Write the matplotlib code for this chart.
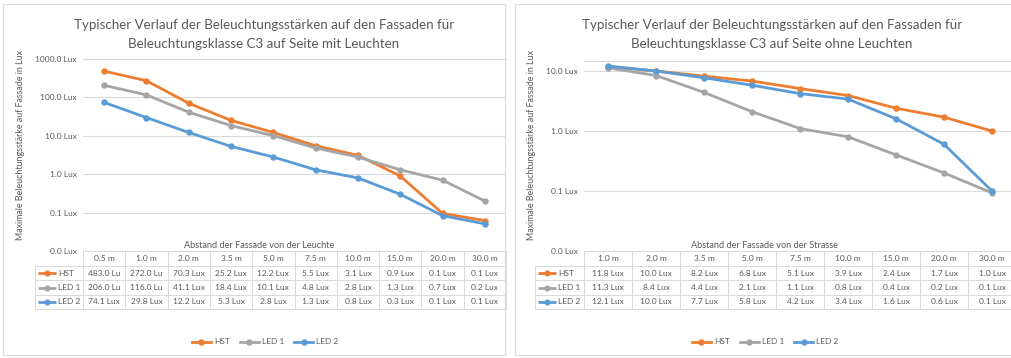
import matplotlib
matplotlib.use("Agg")
import matplotlib.pyplot as plt
import matplotlib.transforms as mtransforms
from matplotlib.lines import Line2D
from matplotlib.patches import Rectangle

plt.rcParams['font.family'] = ['Lato', 'DejaVu Sans']

W, H = 1012, 358

series_names = ["HST", "LED 1", "LED 2"]
series_colors = ["#ED7D31", "#A5A5A5", "#5B9BD5"]

# Seite mit Leuchten
dist_mit = ["0.5 m", "1.0 m", "2.0 m", "3.5 m", "5.0 m", "7.5 m",
            "10.0 m", "15.0 m", "20.0 m", "30.0 m"]
hst_mit = [483.0, 272.0, 70.3, 25.2, 12.2, 5.5, 3.1, 0.9, 0.095, 0.062]
led1_mit = [206.0, 116.0, 41.1, 18.4, 10.1, 4.8, 2.8, 1.3, 0.7, 0.2]
led2_mit = [74.1, 29.8, 12.2, 5.3, 2.8, 1.3, 0.8, 0.3, 0.083, 0.051]

# Seite ohne Leuchten
dist_ohne = ["1.0 m", "2.0 m", "3.5 m", "5.0 m", "7.5 m",
             "10.0 m", "15.0 m", "20.0 m", "30.0 m"]
hst_ohne = [11.8, 10.0, 8.2, 6.8, 5.1, 3.9, 2.4, 1.7, 1.0]
led1_ohne = [11.3, 8.4, 4.4, 2.1, 1.1, 0.8, 0.4, 0.2, 0.093]
led2_ohne = [12.1, 10.0, 7.7, 5.8, 4.2, 3.4, 1.6, 0.6, 0.1]

TEXT = "#595959"
GRID = "#D9D9D9"

fig = plt.figure(figsize=(W / 100, H / 100), dpi=100)
fig.patch.set_facecolor("white")


def fx(x):
    return x / W


def fy(y):
    return 1 - y / H


def lux(v):
    return f"{v:.1f} Lux"


def panel(frame, ax_box, cats, series, title_lines, title_x, xlabel, xlabel_x,
          ylim, ylabel_x, table_left, legend_x):
    # panel frame
    fig.add_artist(Rectangle((fx(frame[0]), fy(frame[3])),
                             fx(frame[2] - frame[0]), (frame[3] - frame[1]) / H,
                             transform=fig.transFigure, fill=False,
                             edgecolor=GRID, lw=0.8))
    x0, y0, x1, y1 = ax_box
    ax = fig.add_axes([fx(x0), fy(y1), fx(x1 - x0), (y1 - y0) / H])
    n = len(cats)
    ax.set_yscale("log")
    ax.set_ylim(*ylim)
    ax.set_xlim(-0.5, n - 0.5)
    decades = [10.0 ** k for k in range(-2, 4) if ylim[0] * 0.999 <= 10.0 ** k <= ylim[1] * 1.001]
    ax.set_yticks(decades)
    ax.set_yticklabels([lux(v) for v in decades])
    ax.yaxis.set_minor_locator(matplotlib.ticker.NullLocator())
    ax.set_xticks([])
    ax.tick_params(axis="y", length=0, labelsize=6, labelcolor=TEXT, pad=4.5)
    ax.grid(axis="y", color=GRID, lw=0.8)
    ax.set_axisbelow(True)
    for s in ("left", "right", "bottom"):
        ax.spines[s].set_visible(False)
    ax.spines["top"].set_color(GRID)
    ax.spines["top"].set_linewidth(0.8)
    ax.patch.set_alpha(0)

    handles = []
    for name, color, vals in zip(series_names, series_colors, series):
        h, = ax.plot(range(n), vals, color=color, lw=2, marker="o", ms=3.6,
                     clip_on=False, label=name, zorder=3)
        handles.append(h)

    # titles and axis titles
    for i, line in enumerate(title_lines):
        fig.text(fx(title_x), fy(25 + 19 * i), line, ha="center", va="center",
                 fontsize=9.6, color=TEXT)
    fig.text(fx(xlabel_x), fy(245), xlabel, ha="center", va="center",
             fontsize=6.6, color=TEXT)
    fig.text(fx(ylabel_x), fy(145), "Maximale Beleuchtungsstärke auf Fassade in Lux",
             rotation=90, ha="center", va="center", fontsize=6.4, color=TEXT)

    # data table
    tr = mtransforms.blended_transform_factory(ax.transData, fig.transFigure)
    rows_y = [251, 266, 280, 295, 309]
    xr = n - 0.5
    lk = dict(color=GRID, lw=0.7)
    fig.add_artist(Line2D([-0.5, xr], [fy(rows_y[0])] * 2, transform=tr, **lk))
    for yy in rows_y[1:]:
        fig.add_artist(Line2D([fx(table_left), fx(x0)], [fy(yy)] * 2,
                              transform=fig.transFigure, **lk))
        fig.add_artist(Line2D([-0.5, xr], [fy(yy)] * 2, transform=tr, **lk))
    fig.add_artist(Line2D([fx(table_left)] * 2, [fy(rows_y[1]), fy(rows_y[-1])],
                          transform=fig.transFigure, **lk))
    for i in range(n + 1):
        fig.add_artist(Line2D([i - 0.5] * 2, [fy(rows_y[0]), fy(rows_y[-1])],
                              transform=tr, **lk))
    centers = [(rows_y[k] + rows_y[k + 1]) / 2 for k in range(4)]
    for i, c in enumerate(cats):
        fig.text(i, fy(centers[0]), c, transform=tr, ha="center", va="center",
                 fontsize=6, color=TEXT)
    for r, (name, color, vals) in enumerate(zip(series_names, series_colors, series)):
        yc = fy(centers[r + 1])
        fig.add_artist(Line2D([fx(table_left + 3), fx(table_left + 21)], [yc, yc],
                              transform=fig.transFigure, color=color, lw=2,
                              solid_capstyle="butt"))
        fig.add_artist(Line2D([fx(table_left + 12)], [yc], transform=fig.transFigure,
                              color=color, marker="o", ms=3.4, lw=0))
        fig.text(fx(table_left + 23), yc, name, ha="left", va="center",
                 fontsize=6, color=TEXT)
        for i, v in enumerate(vals):
            s = lux(v)
            if len(s) > 8:
                # long entries overflow the cell and are cut at its width
                t = fig.text(i - 0.5, yc, s[:8], transform=tr, ha="left",
                             va="center", fontsize=6, color=TEXT)
                t.set_x(i - 0.5 + 5 / ((x1 - x0) / n))
            else:
                fig.text(i, yc, s, transform=tr, ha="center", va="center",
                         fontsize=6, color=TEXT)

    fig.legend(handles=handles, labels=series_names, loc="center",
               bbox_to_anchor=(fx(legend_x), fy(342)), ncol=3, frameon=False,
               fontsize=6, labelcolor=TEXT, handlelength=2.3, handletextpad=0.35,
               columnspacing=1.2)
    return ax


panel(frame=(3, 4, 505, 355), ax_box=(83, 59, 506, 251), cats=dist_mit,
      series=[hst_mit, led1_mit, led2_mit],
      title_lines=["Typischer Verlauf der Beleuchtungsstärken auf den Fassaden für",
                   "Beleuchtungsklasse C3 auf Seite mit Leuchten"],
      title_x=264, xlabel="Abstand der Fassade von der Leuchte", xlabel_x=259,
      ylim=(0.01, 1000.0), ylabel_x=21, table_left=35, legend_x=265)

panel(frame=(515, 4, 1030, 355), ax_box=(584, 61, 1016, 251), cats=dist_ohne,
      series=[hst_ohne, led1_ohne, led2_ohne],
      title_lines=["Typischer Verlauf der Beleuchtungsstärken auf den Fassaden für",
                   "Beleuchtungsklasse C3 auf Seite ohne Leuchten"],
      title_x=772, xlabel="Abstand der Fassade von der Strasse", xlabel_x=764,
      ylim=(0.01, 10 ** (1 + 1 / 6)), ylabel_x=532, table_left=535, legend_x=765)

fig.savefig("out.png", dpi=100, facecolor="white")
